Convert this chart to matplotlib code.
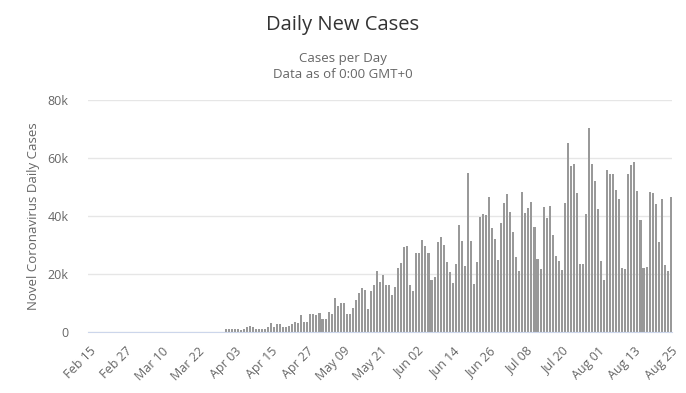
import pandas as pd
import numpy as np
import matplotlib
matplotlib.use("Agg")
import matplotlib.pyplot as plt

# 图表的日期范围（x 轴类别）
first_day = "2020-02-15"
last_day = "2020-08-25"

# 从 3 月 31 日开始的每日新增病例（之前为 0）
cases_start = "2020-03-31"
daily_cases = [
    900, 900, 900, 900, 900, 600, 900, 1800, 2100, 1600,
    900, 900, 900, 1100, 1800, 3200, 1800, 2800, 2800, 1600,
    1600, 2100, 2800, 3600, 3200,
    5900, 3600, 3600, 6200, 6200, 5900, 6700, 4400, 4400, 7000,
    6200, 11800, 9000, 10100, 10100, 6200, 6200, 8200, 11000, 13600,
    15100, 14500, 7800, 14100,
    16200, 21000, 17300, 19700, 16200, 16200, 12800, 15400, 22200, 23700,
    29400, 29800, 16200, 14100, 27100, 27100, 31700, 29800, 27100, 17900,
    18900, 30900, 32600, 30000, 24000,
    20600, 16800, 23300, 36900, 31400, 22900, 54900, 31400, 16400, 24000,
    39500, 40700, 40300, 46400, 35800, 32100, 24800, 37700, 44600, 47600,
    41500, 34600, 26000, 21000, 48200, 40900,
    42600, 44900, 36100, 25200, 21600, 43000, 39200, 43400, 33400, 26200,
    24600, 21400, 44600, 65000, 57300, 57800, 47800, 23300, 23300, 40700,
    70200, 57900, 52100, 42300,
    24600, 17900, 55900, 54500, 54400, 49000, 46000, 22000, 21600, 54500,
    57600, 58500, 48700, 38600, 22000, 22400, 48300, 48000, 44100, 31000,
    45800, 23000, 21000, 46400,
]

y_ticks = [0, 20000, 40000, 60000, 80000]
y_tick_labels = ["0", "20k", "40k", "60k", "80k"]

all_days = pd.date_range(first_day, last_day, freq="D")
cases = pd.Series(daily_cases, index=pd.date_range(cases_start, periods=len(daily_cases)))
cases = cases.reindex(all_days, fill_value=0)

plt.rcParams['font.family'] = ['Open Sans', 'DejaVu Sans']

fig = plt.figure(figsize=(6.86, 3.93), dpi=100)
ax = fig.add_axes([0.128, 0.155, 0.852, 0.591])

x = np.arange(len(all_days))
ax.bar(x, cases.values, width=0.68, color='#999999', linewidth=0)

ax.set_xlim(-0.5, len(all_days) - 0.5)
ax.set_ylim(0, 80000)

# 网格线
ax.set_yticks(y_ticks)
ax.set_yticklabels(y_tick_labels)
ax.grid(axis='y', color='#e6e6e6', linewidth=1)
ax.set_axisbelow(True)

for side in ['top', 'right', 'left']:
    ax.spines[side].set_visible(False)
ax.spines['bottom'].set_color('#ccd6eb')

tick_pos = x[::12]
ax.set_xticks(tick_pos)
ax.set_xticklabels([d.strftime('%b %d') for d in all_days[::12]],
                   rotation=45, ha='right', va='top', rotation_mode='anchor')
ax.tick_params(axis='x', length=0, pad=9, labelsize=9, labelcolor='#666666')
ax.tick_params(axis='y', length=0, pad=14, labelsize=9, labelcolor='#666666')

ax.set_ylabel("Novel Coronavirus Daily Cases", fontsize=9.5, color='#666666', labelpad=5)

fig.text(0.5, 0.937, "Daily New Cases", ha='center', va='center', fontsize=14.5, color='#333333')
fig.text(0.5, 0.852, "Cases per Day", ha='center', va='center', fontsize=9.5, color='#666666')
fig.text(0.5, 0.810, "Data as of 0:00 GMT+0", ha='center', va='center', fontsize=9.5, color='#666666')

fig.savefig("out.png", dpi=100)
